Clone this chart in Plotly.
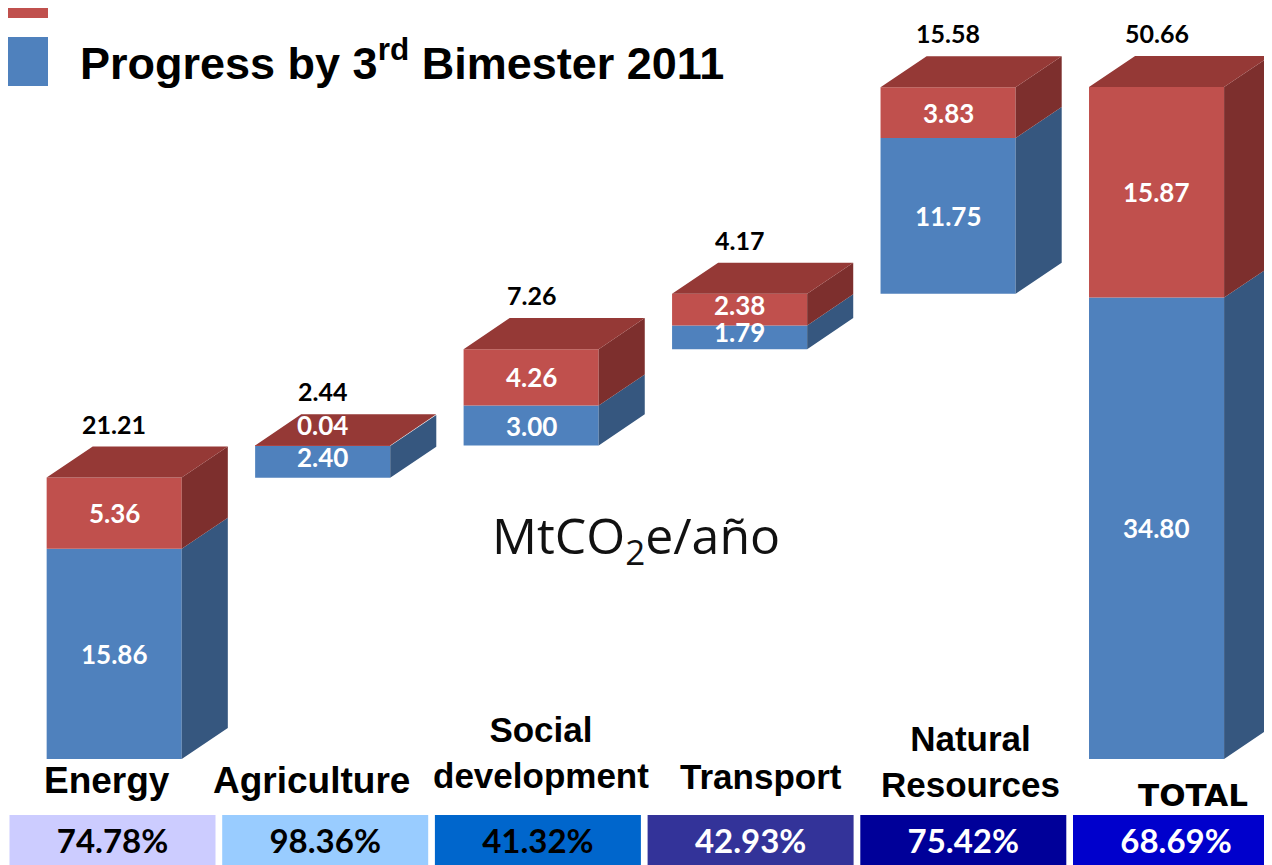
import plotly.graph_objects as go

# ---------------- data ----------------
categories = ["Energy", "Agriculture", "Social<br>development", "Transport", "Natural<br>Resources", "TOTAL"]
progress = [15.86, 2.40, 3.00, 1.79, 11.75, 34.80]      # Progress by 3rd Bimester 2011 (blue)
remaining = [5.36, 0.04, 4.26, 2.38, 3.83, 15.87]      # remaining part (red)
totals = [21.21, 2.44, 7.26, 4.17, 15.58, 50.66]       # labels on top of each block
pct_labels = ["74.78%", "98.36%", "41.32%", "42.93%", "75.42%", "68.69%"]
legend_label = "Progress by 3<sup>rd</sup> Bimester 2011"
unit_label = "MtCO<sub>2</sub>e/año"

# ---------------- styles ----------------
OFF = 8                      # page body margin of the browser
W_, H_ = 1272 - OFF, 865 - OFF
BLUE_FRONT, BLUE_SIDE = "#4F81BD", "#36577F"
RED_FRONT, RED_TOP, RED_SIDE = "#C0504D", "#953936", "#7D2F2D"
BOX_COLORS = ["#CCCCFF", "#99CCFF", "#0066CC", "#333399", "#000099", "#0000CC"]
BOX_TEXT = ["black", "black", "black", "white", "white", "white"]
BAR_W = 0.648
DX, DY = 0.221, 2.34          # depth of the 3-D look (x units, y units)
LBL_XSHIFT = [-6, -14, 3, 10, 7, 17]
LBL_YPX = [780, 780, 752, 776, 761, 795]
LBL_SIZE = [37, 37, 35, 35, 35, 31]
THIN = 2.5                    # segments thinner than this get their label nudged up
THIN_SHIFT = 5


def px_x(px):
    return (px - OFF) / W_


def px_y(py):
    return 1 - (py - OFF) / H_


n = len(categories)
idx = list(range(n))

# waterfall bases: each sector starts where the previous ended; TOTAL starts at 0
bases, run = [], 0.0
for i in range(n - 1):
    bases.append(run)
    run += totals[i]
bases.append(0.0)
mids = [b + p for b, p in zip(bases, progress)]
tops = [m + r for m, r in zip(mids, remaining)]

fig = go.Figure()

# front faces
fig.add_trace(go.Bar(x=idx, y=progress, base=bases, width=BAR_W,
                     marker=dict(color=BLUE_FRONT, line=dict(width=0)),
                     hoverinfo="skip", showlegend=False))
fig.add_trace(go.Bar(x=idx, y=remaining, base=mids, width=BAR_W,
                     marker=dict(color=RED_FRONT, line=dict(width=0)),
                     hoverinfo="skip", showlegend=False))


def poly_trace(pts_list, color):
    xs, ys = [], []
    for pts in pts_list:
        for (px, py) in pts:
            xs.append(px)
            ys.append(py)
        xs.append(None)
        ys.append(None)
    return go.Scatter(x=xs, y=ys, mode="lines", fill="toself", fillcolor=color,
                      line=dict(width=0, color=color), hoverinfo="skip",
                      showlegend=False)


top_faces, red_sides, blue_sides = [], [], []
for i in idx:
    xl, xr = i - BAR_W / 2, i + BAR_W / 2
    b, m, t = bases[i], mids[i], tops[i]
    top_faces.append([(xl, t), (xl + DX, t + DY), (xr + DX, t + DY), (xr, t), (xl, t)])
    red_sides.append([(xr, m), (xr + DX, m + DY), (xr + DX, t + DY), (xr, t), (xr, m)])
    blue_sides.append([(xr, b), (xr + DX, b + DY), (xr + DX, m + DY), (xr, m), (xr, b)])

fig.add_trace(poly_trace(blue_sides, BLUE_SIDE))
fig.add_trace(poly_trace(red_sides, RED_SIDE))
fig.add_trace(poly_trace(top_faces, RED_TOP))

annotations = []
# segment value labels
for i in idx:
    bc = bases[i] + progress[i] / 2
    if remaining[i] < 1:
        rc = tops[i] + DY / 2
    else:
        rc = mids[i] + remaining[i] / 2
    for val, yc in ((progress[i], bc), (remaining[i], rc)):
        ys = THIN_SHIFT if val < THIN else 0
        annotations.append(dict(x=i, y=yc, xref="x", yref="y", text=f"<b>{val:.2f}</b>",
                                showarrow=False, yanchor="middle", yshift=ys,
                                font=dict(family="Lato", size=26, color="white")))
    # total on top
    annotations.append(dict(x=i, y=tops[i] + DY, xref="x", yref="y",
                            text=f"<b>{totals[i]:.2f}</b>", showarrow=False,
                            yanchor="bottom", yshift=6,
                            font=dict(family="Lato", size=25, color="black")))

# percentage row (second axis)
fig.add_trace(go.Bar(x=idx, y=[1] * n, width=0.9685, xaxis="x2", yaxis="y2",
                     marker=dict(color=BOX_COLORS, line=dict(width=0)),
                     text=[f"<b>{p}</b>" for p in pct_labels],
                     textposition="inside", insidetextanchor="middle",
                     textangle=0, constraintext="none",
                     textfont=dict(family="Lato", size=33, color=BOX_TEXT),
                     hoverinfo="skip", showlegend=False))

# category labels
for i in idx:
    fam = "DejaVu Sans" if categories[i] == "TOTAL" else "Liberation Sans"
    annotations.append(dict(x=i, xref="x2", y=px_y(LBL_YPX[i]), yref="paper",
                            xshift=LBL_XSHIFT[i], text=f"<b>{categories[i]}</b>",
                            showarrow=False, yanchor="middle",
                            font=dict(family=fam, size=LBL_SIZE[i], color="black")))

# unit label
annotations.append(dict(x=px_x(636), y=px_y(538), xref="paper", yref="paper",
                        text=unit_label, showarrow=False, yanchor="middle",
                        font=dict(family="Open Sans", size=50, color="#111111")))
# legend text
annotations.append(dict(x=px_x(78), y=px_y(60), xref="paper", yref="paper",
                        xanchor="left", yanchor="middle", text=f"<b>{legend_label}</b>",
                        showarrow=False,
                        font=dict(family="Liberation Sans", size=45, color="black")))

shapes = [
    dict(type="rect", xref="paper", yref="paper", x0=px_x(0), x1=px_x(48),
         y0=px_y(18), y1=px_y(-5), fillcolor=RED_FRONT, line=dict(width=0)),
    dict(type="rect", xref="paper", yref="paper", x0=px_x(0), x1=px_x(48),
         y0=px_y(86), y1=px_y(37), fillcolor=BLUE_FRONT, line=dict(width=0)),
]

# axis mapping (reference pixels)
x_c0, x_pitch = 114.2 - OFF, 208.47
y_base, y_scale = 759 - OFF, 13.26
b_c0, b_pitch = 112.5 - OFF, 212.7

fig.update_layout(
    width=W_, height=H_, margin=dict(l=0, r=0, t=0, b=0),
    paper_bgcolor="white", plot_bgcolor="rgba(0,0,0,0)",
    barmode="overlay", showlegend=False,
    xaxis=dict(range=[-x_c0 / x_pitch, (W_ - x_c0) / x_pitch], visible=False,
               domain=[0, 1], fixedrange=True),
    yaxis=dict(range=[-(H_ - y_base) / y_scale, y_base / y_scale], visible=False,
               domain=[0, 1], fixedrange=True),
    xaxis2=dict(range=[-b_c0 / b_pitch, (W_ - b_c0) / b_pitch], visible=False,
                domain=[0, 1], anchor="y2", overlaying="x"),
    yaxis2=dict(range=[0, 1], visible=False, domain=[0, 50 / H_], anchor="x2"),
    annotations=annotations, shapes=shapes,
)

fig.write_html("out.html")
